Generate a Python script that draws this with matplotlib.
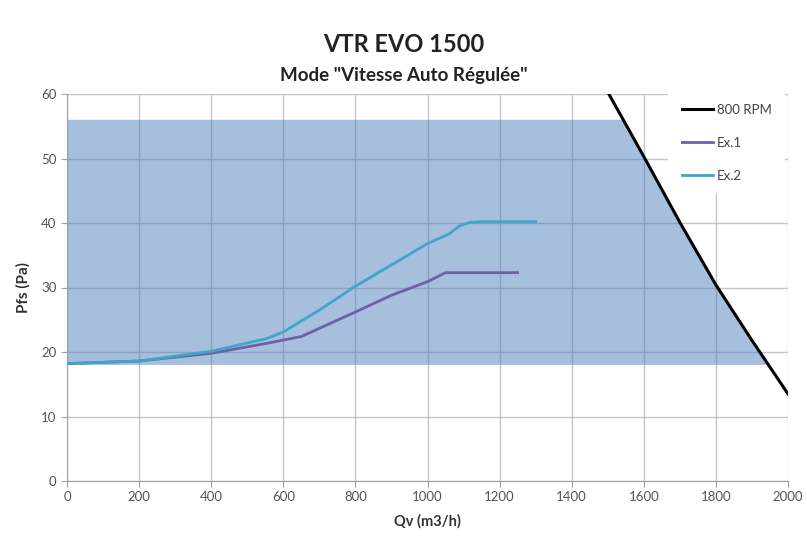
import numpy as np
import matplotlib
matplotlib.use("Agg")
import matplotlib.pyplot as plt
from matplotlib.patches import Rectangle

# ---- data ----
rpm_x = [1500, 1600, 1700, 1800, 1900, 2000]
rpm_y = [60.3, 50.3, 40.1, 30.4, 21.8, 13.5]

ex1_x = [0, 200, 400, 550, 650, 800, 900, 1000, 1050, 1250]
ex1_y = [18.2, 18.6, 19.8, 21.3, 22.4, 26.2, 28.8, 30.9, 32.3, 32.3]

ex2_x = [0, 200, 400, 555, 600, 700, 800, 900, 1000, 1060, 1090, 1120, 1150, 1300]
ex2_y = [18.2, 18.6, 20.1, 22.1, 23.1, 26.5, 30.2, 33.5, 36.8, 38.3, 39.6, 40.1, 40.2, 40.2]

zone_bottom = 18.0
zone_top = 56.0

x_ticks = list(range(0, 2001, 200))
y_ticks = list(range(0, 61, 10))

title = "VTR EVO 1500"
subtitle = 'Mode "Vitesse Auto Régulée"'
xlabel = "Qv (m3/h)"
ylabel = "Pfs (Pa)"
labels = ["800 RPM", "Ex.1", "Ex.2"]

# ---- figure ----
plt.rcParams['font.family'] = ['Lato', 'DejaVu Sans']
fig = plt.figure(figsize=(8.07, 5.40), dpi=100)
ax = fig.add_axes([67/807, 1-481/540, (788-67)/807, (481-94)/540])

# operating zone polygon bounded by the 800 RPM curve
rx = np.array(rpm_x, float)
ry = np.array(rpm_y, float)
x_top = np.interp(zone_top, ry[::-1], rx[::-1])
x_bot = np.interp(zone_bottom, ry[::-1], rx[::-1])
inside = (ry < zone_top) & (ry > zone_bottom)
px = [0, 0, x_top] + list(rx[inside]) + [x_bot]
py = [zone_bottom, zone_top, zone_top] + list(ry[inside]) + [zone_bottom]
ax.fill(px, py, color='#4f81bd', alpha=0.5, lw=0, zorder=1)

ax.plot(rpm_x, rpm_y, color='black', lw=2.2, label=labels[0], zorder=3)
ax.plot(ex1_x, ex1_y, color='#7060a8', lw=2.0, label=labels[1], zorder=3)
ax.plot(ex2_x, ex2_y, color='#3fa6c9', lw=2.0, label=labels[2], zorder=3)

ax.set_xlim(0, 2000)
ax.set_ylim(0, 60)
ax.set_xticks(x_ticks)
ax.set_yticks(y_ticks)
ax.set_axisbelow(True)
ax.grid(True, color='#c4c4c4', lw=1.0)
for s in ['top', 'right']:
    ax.spines[s].set_visible(False)
for s in ['left', 'bottom']:
    ax.spines[s].set_color('#a0a0a0')
ax.tick_params(colors='#a0a0a0', labelcolor='#555555', labelsize=9.5, length=4)

ax.set_xlabel(xlabel, fontsize=10.5, fontweight='bold', color='#333333', labelpad=8)
ax.set_ylabel(ylabel, fontsize=11, fontweight='bold', color='#333333', labelpad=8)

fig.text(0.5, 1-44/540, title, ha='center', va='center', fontsize=17, fontweight='bold', color='#222222')
fig.text(0.5, 1-75/540, subtitle, ha='center', va='center', fontsize=13.5, fontweight='bold', color='#222222')

# white legend area
ax.add_patch(Rectangle((0.8336, 0.744), 0.162, 0.256, transform=ax.transAxes,
                       facecolor='white', edgecolor='none', zorder=2.5))
leg = ax.legend(loc='upper left', bbox_to_anchor=(0.853, 0.975), borderaxespad=0,
                frameon=False, fontsize=9.5, handlelength=2.35,
                handletextpad=0.3, labelspacing=1.6, borderpad=0)
leg.set_zorder(4)
for t in leg.get_texts():
    t.set_color('#444444')

fig.savefig('out.png', dpi=100)
